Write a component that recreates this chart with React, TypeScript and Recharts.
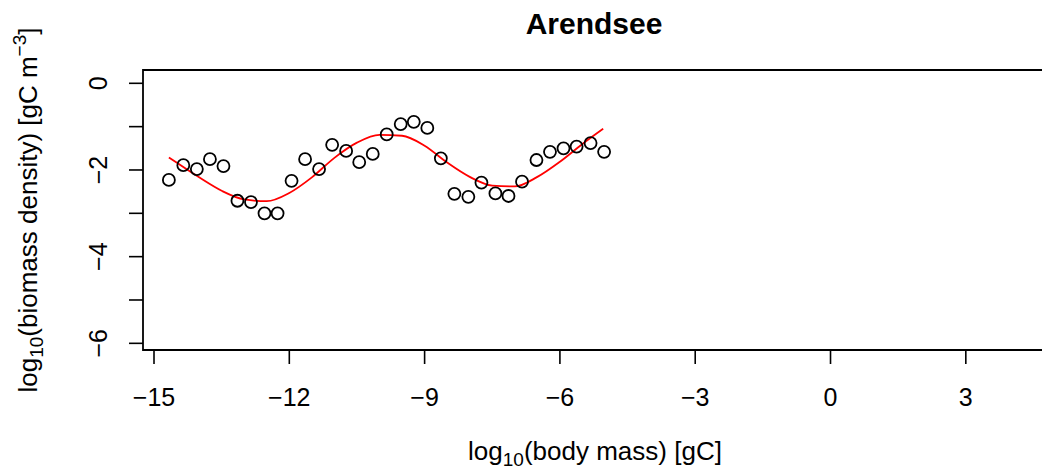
import * as React from "react";
import {
    ComposedChart,
    Line,
    ReferenceArea,
    Scatter,
    XAxis,
    YAxis,
} from "recharts";

// observed size-spectrum points, log10 body mass vs log10 biomass density
const bodyMass = [
    -14.67, -14.35, -14.05, -13.76, -13.46, -13.15, -12.85, -12.55, -12.26,
    -11.95, -11.65, -11.34, -11.05, -10.74, -10.45, -10.15, -9.84, -9.53,
    -9.24, -8.94, -8.64, -8.34, -8.03, -7.74, -7.43, -7.14, -6.84, -6.52,
    -6.22, -5.92, -5.63, -5.32, -5.02,
];
const biomassDensity = [
    -2.23, -1.89, -1.98, -1.75, -1.91, -2.71, -2.74, -3.0, -3.0, -2.25, -1.75,
    -1.98, -1.42, -1.56, -1.82, -1.63, -1.18, -0.94, -0.89, -1.03, -1.73,
    -2.55, -2.62, -2.29, -2.54, -2.6, -2.27, -1.77, -1.58, -1.5, -1.46, -1.38,
    -1.58,
];

// fitted curve (red)
const fitMass = [
    -14.67, -14.5, -14, -13.5, -13, -12.5, -12, -11.5, -11, -10.5, -10, -9.5,
    -9, -8.5, -8, -7.5, -7, -6.5, -6, -5.5, -5.04,
];
const fitDensity = [
    -1.71, -1.83, -2.17, -2.48, -2.68, -2.72, -2.53, -2.17, -1.72, -1.37,
    -1.19, -1.21, -1.44, -1.83, -2.16, -2.36, -2.38, -2.16, -1.81, -1.4,
    -1.05,
];

const xTicks = [-15, -12, -9, -6, -3, 0, 3];
const yTicks = [-6, -5, -4, -3, -2, -1, 0];

const X_DOMAIN: [number, number] = [-15.244, 4.8];
const Y_DOMAIN: [number, number] = [-6.154, 0.307];

const FONT = "'Liberation Sans', Arial, Helvetica, sans-serif";

const fmt = (v: number) => (v < 0 ? `\u2212${Math.abs(v)}` : `${v}`);

const points = bodyMass.map((x, i) => ({ x, y: biomassDensity[i] }));
const fit = fitMass.map((x, i) => ({ x, y: fitDensity[i] }));

const XTick = (props: any) => {
    const { x, payload } = props;
    return (
        <text
            x={x}
            y={406}
            textAnchor="middle"
            fontFamily={FONT}
            fontSize={25}
            fill="#000"
        >
            {fmt(payload.value)}
        </text>
    );
};

const YTick = (props: any) => {
    const { y, payload } = props;
    if (payload.value % 2 !== 0) return null;
    const bx = 107;
    return (
        <text
            x={bx}
            y={y}
            transform={`rotate(-90, ${bx}, ${y})`}
            textAnchor="middle"
            fontFamily={FONT}
            fontSize={25}
            fill="#000"
        >
            {fmt(payload.value)}
        </text>
    );
};

const OpenCircle = (props: any) => (
    <circle
        cx={props.cx}
        cy={props.cy}
        r={6}
        fill="none"
        stroke="#000"
        strokeWidth={1.8}
    />
);

export default function App() {
    return (
        <div
            style={{
                position: "absolute",
                left: 0,
                top: 0,
                width: 1042,
                height: 476,
                overflow: "hidden",
                background: "#fff",
            }}
        >
            <ComposedChart
                width={1060}
                height={476}
                margin={{ top: 70, right: 13, bottom: 0, left: 0 }}
            >
                <XAxis
                    type="number"
                    dataKey="x"
                    domain={X_DOMAIN}
                    allowDataOverflow
                    ticks={xTicks}
                    interval={0}
                    height={126}
                    axisLine={false}
                    tickSize={14}
                    tickLine={{ stroke: "#000", strokeWidth: 1.6 }}
                    tick={<XTick />}
                />
                <YAxis
                    type="number"
                    dataKey="y"
                    domain={Y_DOMAIN}
                    allowDataOverflow
                    ticks={yTicks}
                    interval={0}
                    width={143}
                    axisLine={false}
                    tickSize={14}
                    tickLine={{ stroke: "#000", strokeWidth: 1.6 }}
                    tick={<YTick />}
                />
                <ReferenceArea
                    x1={X_DOMAIN[0]}
                    x2={X_DOMAIN[1]}
                    y1={Y_DOMAIN[0]}
                    y2={Y_DOMAIN[1]}
                    fill="none"
                    fillOpacity={0}
                    stroke="#000"
                    strokeWidth={1.8}
                    ifOverflow="visible"
                />
                <Scatter
                    data={points}
                    dataKey="y"
                    shape={<OpenCircle />}
                    isAnimationActive={false}
                />
                <Line
                    data={fit}
                    dataKey="y"
                    type="monotone"
                    stroke="#ff0000"
                    strokeWidth={1.8}
                    dot={false}
                    activeDot={false}
                    isAnimationActive={false}
                />
            </ComposedChart>
            <svg
                width={1042}
                height={476}
                style={{ position: "absolute", left: 0, top: 0, pointerEvents: "none" }}
            >
                <text
                    x={594}
                    y={34}
                    textAnchor="middle"
                    fontFamily={FONT}
                    fontWeight="bold"
                    fontSize={30}
                    fill="#000"
                >
                    Arendsee
                </text>
                <text
                    x={595}
                    y={460}
                    textAnchor="middle"
                    fontFamily={FONT}
                    fontSize={26}
                    fill="#000"
                >
                    log
                    <tspan fontSize={19} dy={6}>10</tspan>
                    <tspan dy={-6}>(body mass) [gC]</tspan>
                </text>
                <text
                    x={37}
                    y={210}
                    transform="rotate(-90, 37, 210)"
                    textAnchor="middle"
                    fontFamily={FONT}
                    fontSize={26}
                    fill="#000"
                >
                    log
                    <tspan fontSize={19} dy={6}>10</tspan>
                    <tspan dy={-6}>(biomass density) [gC m</tspan>
                    <tspan fontSize={19} dy={-11}>{"\u22123"}</tspan>
                    <tspan dy={11}>]</tspan>
                </text>
            </svg>
        </div>
    );
}
